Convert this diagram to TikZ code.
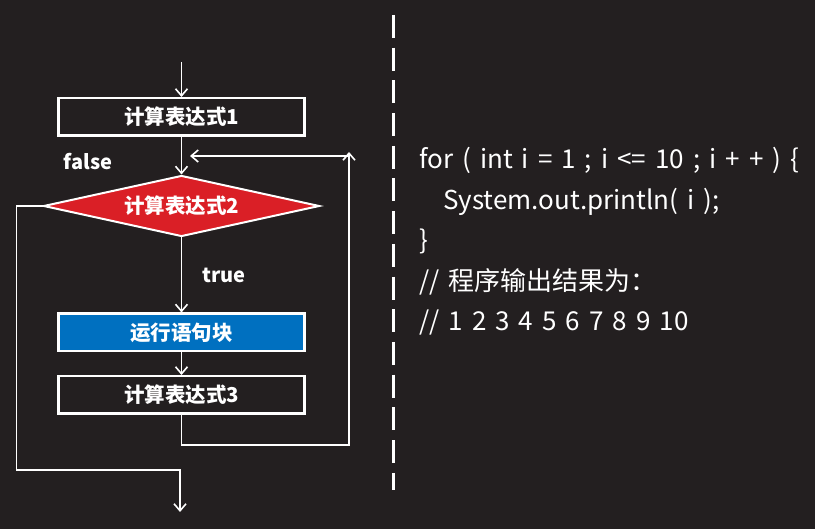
\documentclass[tikz,border=0pt]{standalone}
\usepackage{xcolor}
\usepackage{fontspec}
\setmainfont{Noto Sans CJK SC}
\newfontfamily\codefont[WordSpace=1.55]{Noto Sans CJK SC}
\usepackage{tikz}
\usetikzlibrary{shapes.geometric, arrows.meta, positioning}

\definecolor{bgdark}{HTML}{231F20}
\definecolor{condred}{HTML}{DA1F26}
\definecolor{blockblue}{HTML}{0070C0}

\begin{document}
\begin{tikzpicture}[
        x=1pt, y=1pt,
        >={Straight Barb[length=7pt, width=12pt]},
        box/.style={rectangle, draw=white, fill=bgdark, line width=2.5pt, minimum width=246pt, minimum height=37.5pt, text=white, font=\fontsize{20.5}{24}\selectfont\bfseries},
        cond/.style={diamond, draw=white, fill=condred, line width=2pt, aspect=4.4, inner sep=0pt, minimum width=276pt, minimum height=61pt, text=white, font=\fontsize{20.5}{24}\selectfont\bfseries},
        flow/.style={->, draw=white, line width=1.6pt},
        tag/.style={text=white, font=\fontsize{20}{24}\selectfont\bfseries},
        code/.style={anchor=base west, text=white, inner sep=0pt, font=\fontsize{26}{30}\codefont},
        sep/.style={draw=white, line width=3pt, dash pattern=on 23pt off 9.7pt}
    ]

    % Background
    \fill[bgdark] (0,0) rectangle (815,-529);
    \useasboundingbox (0,0) rectangle (815,-529);

    % Expression 1
    \coordinate (start) at (181.5,-62);
    \node[box] (calc1) at (181.5,-117) {计算表达式1};

    % Condition
    \node[cond] (cond) at (181.5,-206) {计算表达式2};
    \node[tag] (falselbl) at (88,-162) {false};

    % Body
    \node[box, fill=blockblue] (block) at (181.5,-332.5) {运行语句块};
    \node[box, below=22.5pt of block] (calc3) {计算表达式3};

    % Loop back
    \coordinate (loopup) at (349,-152);
    \coordinate (loopin) at (349,-156);
    \coordinate (loopend) at (190,-156);

    % Exit
    \coordinate (exit) at (180,-512);

    % Arrows
    \draw[flow] (start) -- (calc1);
    \draw[flow] (calc1) -- (cond);
    \draw[flow] (cond) -- node[tag, right=17pt] (truelbl) {true} (block);
    \draw[flow] (block) -- (calc3);
    \draw[flow] (calc3.south) -- ++(0,-30) -| (loopup);
    \draw[flow] (loopin) -- (loopend);
    \draw[flow] (cond.west) -- ++(-26,0) |- ([yshift=42pt]exit) -- (exit);

    % Separator
    \coordinate (septop) at (393.5,-15);
    \coordinate (sepbot) at (393.5,-490);
    \draw[sep] (septop) -- (sepbot);

    % Code
    \node[code] (line1) at (419,-169) {for ( int i = 1 ; i <= 10 ; i + + ) \{};
    \node[code] (line2) at (443,-209.5) {System.out.println( i );};
    \node[code] (line3) at (419,-250) {\}};
    \node[code] (line4) at (419,-290.5) {// 程序输出结果为：};
    \node[code] (line5) at (419,-331) {// 1 2 3 4 5 6 7 8 9 10};

\end{tikzpicture}
\end{document}
